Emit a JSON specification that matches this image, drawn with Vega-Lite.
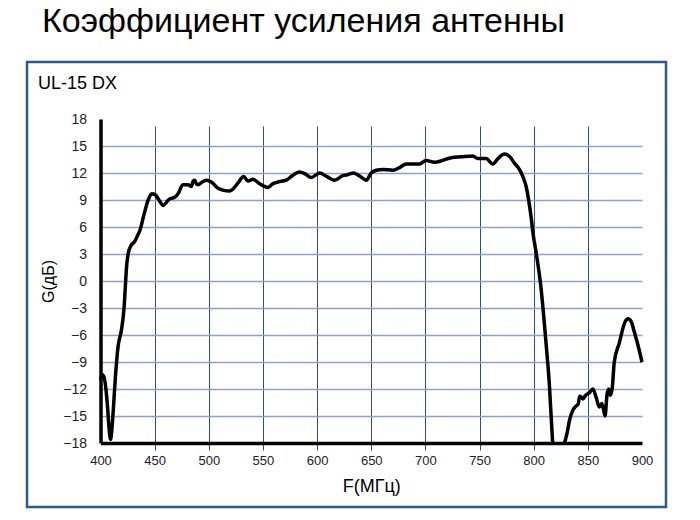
{
  "$schema": "https://vega.github.io/schema/vega-lite/v6.json",
  "description": "Antenna gain G(dB) of UL-15 DX across 400-900 MHz, framed panel with a title above.",
  "width": 639,
  "height": 445,
  "autosize": {"type": "none"},
  "padding": {"left": 27, "top": 62, "right": 34, "bottom": 13},
  "background": "white",
  "title": {
    "text": "Коэффициент усиления антенны",
    "anchor": "start",
    "frame": "group",
    "dx": 15,
    "offset": 23,
    "fontSize": 34,
    "fontWeight": "normal",
    "font": "Liberation Sans",
    "color": "black"
  },
  "config": {
    "font": "Liberation Sans",
    "view": {"stroke": "#2e5a92", "strokeWidth": 2.5}
  },
  "layer": [
    {
      "data": {
        "values": [
          {"f": 400, "g": -11.0, "seg": "a"},
          {"f": 401.5, "g": -10.4, "seg": "a"},
          {"f": 403, "g": -10.6, "seg": "a"},
          {"f": 405, "g": -12.0, "seg": "a"},
          {"f": 406.5, "g": -14.0, "seg": "a"},
          {"f": 408, "g": -16.5, "seg": "a"},
          {"f": 409.3, "g": -17.6, "seg": "a"},
          {"f": 410.5, "g": -16.5, "seg": "a"},
          {"f": 411.6, "g": -14.7, "seg": "a"},
          {"f": 413.8, "g": -10.6, "seg": "a"},
          {"f": 416.2, "g": -7.3, "seg": "a"},
          {"f": 419.4, "g": -5.4, "seg": "a"},
          {"f": 421.8, "g": -2.9, "seg": "a"},
          {"f": 423, "g": -0.5, "seg": "a"},
          {"f": 424, "g": 1.5, "seg": "a"},
          {"f": 425.5, "g": 3.0, "seg": "a"},
          {"f": 428, "g": 3.9, "seg": "a"},
          {"f": 431.6, "g": 4.4, "seg": "a"},
          {"f": 434, "g": 5.0, "seg": "a"},
          {"f": 436.3, "g": 5.6, "seg": "a"},
          {"f": 440.2, "g": 7.4, "seg": "a"},
          {"f": 444, "g": 9.0, "seg": "a"},
          {"f": 447.3, "g": 9.7, "seg": "a"},
          {"f": 450.5, "g": 9.6, "seg": "a"},
          {"f": 454, "g": 9.0, "seg": "a"},
          {"f": 457.8, "g": 8.4, "seg": "a"},
          {"f": 463.5, "g": 9.1, "seg": "a"},
          {"f": 468.5, "g": 9.3, "seg": "a"},
          {"f": 471.6, "g": 9.7, "seg": "a"},
          {"f": 476.2, "g": 10.7, "seg": "a"},
          {"f": 480.8, "g": 10.7, "seg": "a"},
          {"f": 483.9, "g": 10.5, "seg": "a"},
          {"f": 485.5, "g": 11.1, "seg": "a"},
          {"f": 487, "g": 11.2, "seg": "a"},
          {"f": 488.5, "g": 10.8, "seg": "a"},
          {"f": 490, "g": 10.7, "seg": "a"},
          {"f": 494, "g": 11.0, "seg": "a"},
          {"f": 497.8, "g": 11.2, "seg": "a"},
          {"f": 502.4, "g": 11.0, "seg": "a"},
          {"f": 508.5, "g": 10.3, "seg": "a"},
          {"f": 513, "g": 10.1, "seg": "a"},
          {"f": 519.3, "g": 10.0, "seg": "a"},
          {"f": 523, "g": 10.3, "seg": "a"},
          {"f": 527, "g": 10.9, "seg": "a"},
          {"f": 532.2, "g": 11.6, "seg": "a"},
          {"f": 536.2, "g": 11.1, "seg": "a"},
          {"f": 540.8, "g": 11.3, "seg": "a"},
          {"f": 547, "g": 10.8, "seg": "a"},
          {"f": 554.6, "g": 10.4, "seg": "a"},
          {"f": 559, "g": 10.8, "seg": "a"},
          {"f": 563.9, "g": 11.0, "seg": "a"},
          {"f": 571.6, "g": 11.2, "seg": "a"},
          {"f": 577, "g": 11.7, "seg": "a"},
          {"f": 583.9, "g": 12.1, "seg": "a"},
          {"f": 589, "g": 11.9, "seg": "a"},
          {"f": 594.6, "g": 11.5, "seg": "a"},
          {"f": 602.3, "g": 12.0, "seg": "a"},
          {"f": 609, "g": 11.6, "seg": "a"},
          {"f": 616.1, "g": 11.2, "seg": "a"},
          {"f": 623.8, "g": 11.7, "seg": "a"},
          {"f": 628, "g": 11.8, "seg": "a"},
          {"f": 633.7, "g": 12.0, "seg": "a"},
          {"f": 640, "g": 11.6, "seg": "a"},
          {"f": 645.4, "g": 11.2, "seg": "a"},
          {"f": 650, "g": 12.0, "seg": "a"},
          {"f": 654.6, "g": 12.3, "seg": "a"},
          {"f": 661, "g": 12.4, "seg": "a"},
          {"f": 669.9, "g": 12.3, "seg": "a"},
          {"f": 676.1, "g": 12.6, "seg": "a"},
          {"f": 682.3, "g": 13.0, "seg": "a"},
          {"f": 694.6, "g": 13.0, "seg": "a"},
          {"f": 700.7, "g": 13.4, "seg": "a"},
          {"f": 708.4, "g": 13.2, "seg": "a"},
          {"f": 716, "g": 13.4, "seg": "a"},
          {"f": 723.8, "g": 13.7, "seg": "a"},
          {"f": 733, "g": 13.8, "seg": "a"},
          {"f": 743.7, "g": 13.9, "seg": "a"},
          {"f": 748.3, "g": 13.6, "seg": "a"},
          {"f": 756.1, "g": 13.6, "seg": "a"},
          {"f": 762.2, "g": 13.0, "seg": "a"},
          {"f": 767, "g": 13.6, "seg": "a"},
          {"f": 773, "g": 14.1, "seg": "a"},
          {"f": 778, "g": 13.8, "seg": "a"},
          {"f": 782.2, "g": 13.1, "seg": "a"},
          {"f": 786.8, "g": 12.4, "seg": "a"},
          {"f": 790, "g": 11.6, "seg": "a"},
          {"f": 793, "g": 10.5, "seg": "a"},
          {"f": 797.6, "g": 7.1, "seg": "a"},
          {"f": 799.5, "g": 5.2, "seg": "a"},
          {"f": 802.2, "g": 3.2, "seg": "a"},
          {"f": 806.5, "g": -0.5, "seg": "a"},
          {"f": 811.4, "g": -6.9, "seg": "a"},
          {"f": 814.4, "g": -11.4, "seg": "a"},
          {"f": 817.5, "g": -18.0, "seg": "a"},
          {"f": 828.5, "g": -18.0, "seg": "b"},
          {"f": 831, "g": -16.8, "seg": "b"},
          {"f": 833, "g": -15.5, "seg": "b"},
          {"f": 836, "g": -14.4, "seg": "b"},
          {"f": 839, "g": -13.9, "seg": "b"},
          {"f": 841, "g": -13.7, "seg": "b"},
          {"f": 842.5, "g": -12.8, "seg": "b"},
          {"f": 844, "g": -12.9, "seg": "b"},
          {"f": 845.5, "g": -13.1, "seg": "b"},
          {"f": 848, "g": -12.7, "seg": "b"},
          {"f": 851.5, "g": -12.4, "seg": "b"},
          {"f": 854.5, "g": -12.0, "seg": "b"},
          {"f": 857.6, "g": -12.9, "seg": "b"},
          {"f": 860.6, "g": -14.0, "seg": "b"},
          {"f": 863, "g": -13.6, "seg": "b"},
          {"f": 865.9, "g": -15.0, "seg": "b"},
          {"f": 867.7, "g": -12.6, "seg": "b"},
          {"f": 869.2, "g": -12.0, "seg": "b"},
          {"f": 870.7, "g": -12.7, "seg": "b"},
          {"f": 872.6, "g": -11.8, "seg": "b"},
          {"f": 874.4, "g": -9.0, "seg": "b"},
          {"f": 879, "g": -6.9, "seg": "b"},
          {"f": 884.5, "g": -4.5, "seg": "b"},
          {"f": 887.3, "g": -4.2, "seg": "b"},
          {"f": 890, "g": -4.5, "seg": "b"},
          {"f": 892.8, "g": -5.6, "seg": "b"},
          {"f": 896, "g": -7.0, "seg": "b"},
          {"f": 900, "g": -9.0, "seg": "b"}
        ]
      },
      "mark": {"type": "line", "color": "black", "strokeWidth": 3.5, "interpolate": "monotone", "strokeJoin": "round"},
      "encoding": {
        "x": {
          "field": "f",
          "type": "quantitative",
          "scale": {"domain": [400, 900], "range": [73.5, 615], "nice": false, "zero": false},
          "axis": {
            "orient": "bottom",
            "offset": -64,
            "values": [400, 450, 500, 550, 600, 650, 700, 750, 800, 850, 900],
            "tickCount": 11,
            "grid": true,
            "gridColor": "#2c4f8c",
            "gridWidth": 1,
            "gridOpacity": {"condition": {"test": "datum.value == 400 || datum.value == 900", "value": 0}, "value": 1},
            "ticks": false,
            "domainColor": "black",
            "domainWidth": 3.5,
            "labelFontSize": 13,
            "labelColor": "#222222",
            "labelPadding": 11,
            "labelFlush": false,
            "labelOverlap": false,
            "labelBound": false,
            "title": "F(МГц)",
            "titleFontSize": 18,
            "titleFontWeight": "normal",
            "titleColor": "black",
            "titlePadding": 10
          }
        },
        "y": {
          "field": "g",
          "type": "quantitative",
          "scale": {"domain": [-18, 18], "range": [381, 57], "nice": false, "zero": false},
          "axis": {
            "orient": "left",
            "offset": -73.5,
            "values": [-18, -15, -12, -9, -6, -3, 0, 3, 6, 9, 12, 15, 18],
            "tickCount": 13,
            "grid": true,
            "gridColor": "#8fa1c8",
            "gridWidth": 1.5,
            "gridOpacity": {"condition": {"test": "datum.value == 18 || datum.value == -18", "value": 0}, "value": 1},
            "ticks": false,
            "domainColor": "black",
            "domainWidth": 3.5,
            "labelFontSize": 14,
            "labelColor": "#222222",
            "labelPadding": 14,
            "labelFlush": false,
            "labelOverlap": false,
            "labelBound": false,
            "title": "G(дБ)",
            "titleFontSize": 16,
            "titleFontWeight": "normal",
            "titleColor": "black",
            "titlePadding": 6
          }
        },
        "detail": {"field": "seg", "type": "nominal"}
      }
    },
    {
      "data": {"values": [{"label": "UL-15 DX"}]},
      "mark": {"type": "text", "align": "left", "baseline": "alphabetic", "fontSize": 18, "color": "black", "font": "Liberation Sans"},
      "encoding": {
        "text": {"field": "label", "type": "nominal"},
        "x": {
          "datum": 342.3,
          "type": "quantitative",
          "axis": {
            "orient": "bottom",
            "offset": -64,
            "values": [400, 450, 500, 550, 600, 650, 700, 750, 800, 850, 900],
            "tickCount": 11,
            "grid": true,
            "gridColor": "#2c4f8c",
            "gridWidth": 1,
            "gridOpacity": {"condition": {"test": "datum.value == 400 || datum.value == 900", "value": 0}, "value": 1},
            "ticks": false,
            "domainColor": "black",
            "domainWidth": 3.5,
            "labelFontSize": 13,
            "labelColor": "#222222",
            "labelPadding": 11,
            "labelFlush": false,
            "labelOverlap": false,
            "labelBound": false,
            "title": "F(МГц)",
            "titleFontSize": 18,
            "titleFontWeight": "normal",
            "titleColor": "black",
            "titlePadding": 10
          }
        },
        "y": {
          "datum": 21.3,
          "type": "quantitative",
          "axis": {
            "orient": "left",
            "offset": -73.5,
            "values": [-18, -15, -12, -9, -6, -3, 0, 3, 6, 9, 12, 15, 18],
            "tickCount": 13,
            "grid": true,
            "gridColor": "#8fa1c8",
            "gridWidth": 1.5,
            "gridOpacity": {"condition": {"test": "datum.value == 18 || datum.value == -18", "value": 0}, "value": 1},
            "ticks": false,
            "domainColor": "black",
            "domainWidth": 3.5,
            "labelFontSize": 14,
            "labelColor": "#222222",
            "labelPadding": 14,
            "labelFlush": false,
            "labelOverlap": false,
            "labelBound": false,
            "title": "G(дБ)",
            "titleFontSize": 16,
            "titleFontWeight": "normal",
            "titleColor": "black",
            "titlePadding": 6
          }
        }
      }
    }
  ]
}
